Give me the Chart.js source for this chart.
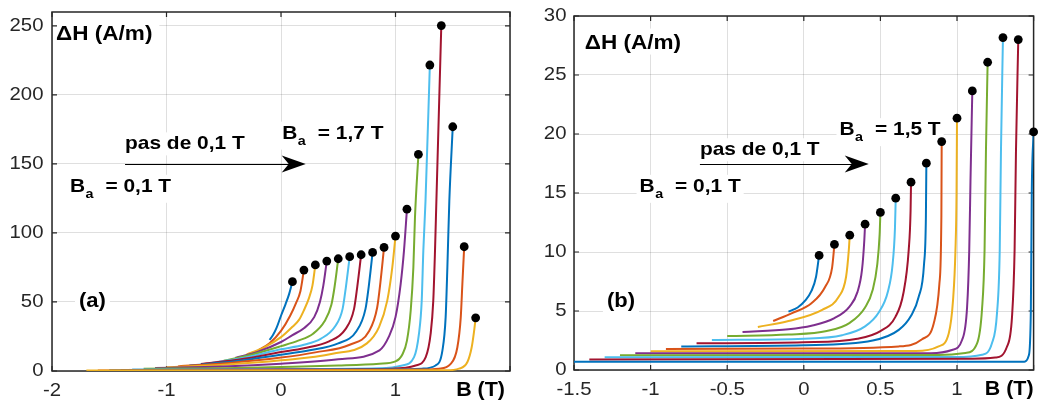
<!DOCTYPE html>
<html>
<head>
<meta charset="utf-8">
<script src="https://cdn.jsdelivr.net/npm/chart.js@4.4.1/dist/chart.umd.min.js"></script>
<style>
  body { margin: 0; background: #fff; }
  canvas { position: absolute; top: 0; }
  #chartA { left: 0; }
  #chartB { left: 520px; }
</style>
</head>
<body>
<canvas id="chartA" width="520" height="401"></canvas>
<canvas id="chartB" width="518" height="401"></canvas>
<script>
// ========================
// Données
// ========================
// (a) champ appliqué Ba (T) et ΔH au sommet (A/m)
const fieldA = [0.1, 0.2, 0.3, 0.4, 0.5, 0.6, 0.7, 0.8, 0.9, 1.0, 1.1, 1.2, 1.3, 1.4, 1.5, 1.6, 1.7];
const peakA = [64.7, 73.1, 76.8, 79.6, 81.3, 82.8, 84.2, 85.9, 89.5, 97.7, 117.2, 156.9, 221.6, 250.2, 176.9, 90.0, 38.5];
// (a) courbes [B, ΔH]
const curvesA = [
  [[-0.1, 22.5], [-0.07, 26], [-0.04, 31], [0, 40], [0.04, 48.5], [0.07, 55.5], [0.1, 64.7]],
  [[-0.2, 15], [-0.1, 20], [0, 29], [0.08, 40], [0.13, 49], [0.17, 58], [0.2, 73.1]],
  [[-0.3, 12], [-0.15, 17], [0, 24.5], [0.1, 32], [0.157, 37], [0.2, 44], [0.245, 53], [0.275, 62], [0.3, 76.8]],
  [[-0.4, 9.5], [-0.2, 14], [0, 21], [0.1, 26], [0.2, 31], [0.29, 39], [0.34, 50], [0.37, 62], [0.4, 79.6]],
  [[-0.5, 7.5], [-0.25, 12], [0, 18], [0.15, 22], [0.28, 27], [0.38, 36], [0.44, 48], [0.468, 61], [0.5, 81.3]],
  [[-0.6, 6], [-0.3, 10], [0, 15.7], [0.2, 19], [0.35, 23.5], [0.47, 32], [0.538, 45], [0.567, 61], [0.6, 82.8]],
  [[-0.7, 5], [-0.35, 8.5], [0, 13.7], [0.2, 16.5], [0.42, 21.5], [0.56, 30], [0.638, 45], [0.666, 61], [0.7, 84.2]],
  [[-0.8, 4], [-0.4, 7], [0, 11.8], [0.25, 15], [0.5, 20], [0.66, 29], [0.738, 45], [0.766, 61], [0.8, 85.9]],
  [[-0.9, 3.3], [-0.45, 5.8], [0, 9.7], [0.3, 13.5], [0.6, 19], [0.77, 29], [0.84, 46], [0.868, 64], [0.9, 89.5]],
  [[-1.0, 2.7], [-0.5, 4.5], [0, 7.7], [0.45, 12.5], [0.75, 20], [0.856, 31.8], [0.928, 51], [0.972, 75], [1.0, 97.7]],
  [[-1.1, 2.2], [-0.5, 3.3], [0, 5.3], [0.5, 8.5], [0.86, 15], [0.94, 24.5], [1.0, 39], [1.045, 63], [1.074, 87], [1.1, 117.2]],
  [[-1.2, 1.7], [-0.5, 2], [0, 2.9], [0.5, 4], [0.86, 5.3], [1.0, 7], [1.06, 12], [1.1, 22], [1.133, 44], [1.156, 75], [1.17, 111], [1.2, 156.9]],
  [[-1.3, 1.0], [0, 1.4], [0.86, 2], [1.06, 4], [1.162, 10], [1.205, 27], [1.229, 51], [1.243, 87], [1.262, 123], [1.3, 221.6]],
  [[-1.4, 0.8], [0, 1.0], [0.97, 1.7], [1.176, 4], [1.264, 10], [1.307, 27], [1.33, 51], [1.345, 87], [1.357, 123], [1.4, 250.2]],
  [[-1.5, 0.6], [0, 0.8], [1.0, 1.2], [1.23, 1.7], [1.35, 4], [1.41, 15], [1.438, 39], [1.453, 75], [1.47, 123], [1.5, 176.9]],
  [[-1.6, 0.4], [0, 0.5], [1.2, 1], [1.38, 1.7], [1.48, 5], [1.54, 17], [1.57, 39], [1.584, 63], [1.6, 90]],
  [[-1.7, 0.3], [0, 0.3], [1.44, 0.5], [1.555, 1.7], [1.628, 6.5], [1.665, 17], [1.685, 28], [1.7, 38.5]]
];
const xTicksA = [-2, -1, 0, 1, 2];
const yTicksA = [0, 50, 100, 150, 200, 250];

// (b)
const fieldB = [0.1, 0.2, 0.3, 0.4, 0.5, 0.6, 0.7, 0.8, 0.9, 1.0, 1.1, 1.2, 1.3, 1.4, 1.5];
const peakB = [9.71, 10.64, 11.43, 12.36, 13.35, 14.56, 15.92, 17.53, 19.36, 21.34, 23.65, 26.08, 28.17, 28.0, 20.18];
const curvesB = [
  [[-0.1, 4.95], [-0.04, 5.3], [0.01, 5.9], [0.05, 6.7], [0.08, 7.9], [0.1, 9.71]],
  [[-0.2, 4.15], [-0.08, 4.8], [0.05, 5.65], [0.14, 7.05], [0.185, 8.7], [0.2, 10.64]],
  [[-0.3, 3.65], [-0.1, 4.15], [0.12, 5.1], [0.228, 6.2], [0.276, 7.9], [0.294, 10.2], [0.3, 11.43]],
  [[-0.4, 3.22], [-0.1, 3.45], [0.05, 3.75], [0.2, 4.4], [0.3, 5.4], [0.35, 6.6], [0.38, 8.5], [0.395, 11], [0.4, 12.36]],
  [[-0.5, 2.88], [-0.1, 3.0], [0.15, 3.3], [0.3, 4.0], [0.4, 5.3], [0.45, 6.8], [0.48, 9], [0.495, 11.5], [0.5, 13.35]],
  [[-0.6, 2.54], [0, 2.65], [0.25, 2.95], [0.4, 3.7], [0.49, 4.9], [0.55, 6.7], [0.58, 9], [0.595, 12], [0.6, 14.56]],
  [[-0.7, 2.26], [0, 2.35], [0.35, 2.65], [0.5, 3.3], [0.598, 4.5], [0.65, 6.5], [0.685, 10.2], [0.697, 13.5], [0.7, 15.92]],
  [[-0.8, 2.0], [0, 2.1], [0.45, 2.5], [0.62, 3.4], [0.7, 4.6], [0.75, 6.2], [0.785, 9], [0.797, 13], [0.8, 17.53]],
  [[-0.9, 1.78], [0, 1.82], [0.62, 2.0], [0.772, 2.6], [0.848, 3.95], [0.885, 7.3], [0.898, 13], [0.9, 19.36]],
  [[-1.0, 1.58], [0.73, 1.6], [0.88, 2.0], [0.946, 3.1], [0.974, 5.9], [0.99, 10.2], [0.997, 15], [1.0, 21.34]],
  [[-1.1, 1.41], [0.83, 1.43], [0.967, 1.7], [1.033, 2.54], [1.066, 5.36], [1.08, 10.2], [1.088, 16], [1.1, 23.65]],
  [[-1.2, 1.25], [0.88, 1.27], [1.055, 1.45], [1.131, 2.26], [1.163, 5.1], [1.18, 10.2], [1.189, 18.6], [1.2, 26.08]],
  [[-1.3, 1.07], [0.99, 1.1], [1.163, 1.3], [1.228, 2.26], [1.261, 4.8], [1.279, 10.2], [1.287, 18.6], [1.3, 28.17]],
  [[-1.4, 0.9], [1.1, 0.95], [1.25, 1.05], [1.326, 1.97], [1.359, 4.5], [1.376, 10.2], [1.385, 18.6], [1.4, 28.0]],
  [[-1.5, 0.7], [1.44, 0.7], [1.468, 1.2], [1.482, 5], [1.488, 15], [1.5, 20.18]]
];
const xTicksB = [-1.5, -1, -0.5, 0, 0.5, 1, 1.5];
const yTicksB = [0, 5, 10, 15, 20, 25, 30];

// couleurs MATLAB par défaut
const palette = ["#0072BD", "#D95319", "#EDB120", "#7E2F8E", "#77AC30", "#4DBEEE", "#A2142F"];

// ========================
// Texte (police étirée comme sur la figure)
// ========================
const SX = 1.1;
const FONT = '"Liberation Sans", Arial, Helvetica, sans-serif';

function put(ctx, s, x, y, size, bold, align, base) {
  ctx.save();
  ctx.font = (bold ? "bold " : "") + size + "px " + FONT;
  ctx.textAlign = align || "left";
  ctx.textBaseline = base || "alphabetic";
  ctx.translate(x, y);
  ctx.scale(SX, 1);
  ctx.fillText(s, 0, 0);
  const w = ctx.measureText(s).width * SX;
  ctx.restore();
  return w;
}

function textWidth(ctx, s, size, bold) {
  ctx.save();
  ctx.font = (bold ? "bold " : "") + size + "px " + FONT;
  const w = ctx.measureText(s).width * SX;
  ctx.restore();
  return w;
}

function drawArrow(ctx, x0, x1, y) {
  ctx.strokeStyle = "#000";
  ctx.lineWidth = 1;
  ctx.beginPath();
  ctx.moveTo(x0, y + 0.5);
  ctx.lineTo(x1 - 16, y + 0.5);
  ctx.stroke();
  ctx.fillStyle = "#000";
  ctx.beginPath();
  ctx.moveTo(x1, y);
  ctx.lineTo(x1 - 24, y - 8.5);
  ctx.lineTo(x1 - 17, y);
  ctx.lineTo(x1 - 24, y + 8.5);
  ctx.closePath();
  ctx.fill();
}

// ========================
// Cadre, graduations et annotations façon MATLAB
// ========================
const matlabAxes = {
  id: "matlabAxes",
  beforeDatasetsDraw(chart, args, o) {
    const ctx = chart.ctx, a = chart.chartArea;
    const xs = chart.scales.x, ys = chart.scales.y;
    const X = v => xs.getPixelForValue(v), Y = v => ys.getPixelForValue(v);
    ctx.save();

    // fonds blancs des textes
    ctx.fillStyle = "#fff";
    const hx = X(o.yLabel[0]), hy = Y(o.yLabel[1]);
    const hw = textWidth(ctx, "ΔH (A/m)", 20.5, true);
    ctx.fillRect(Math.max(a.left + 1, hx - 5), Math.max(a.top + 1, hy - 20), hw + 10, 26);
    const tx = X(o.tag[0]), ty = Y(o.tag[1]);
    ctx.fillRect(tx - 4, ty - 19, textWidth(ctx, o.tagText, 20, true) + 8, 25);
    o.ba.forEach(b => {
      const bx = X(b[0]), by = Y(b[1]);
      ctx.fillRect(bx - 3, by - 17, 35.5 + textWidth(ctx, b[2], 19, true) + 6, 28);
    });
    const px = X(o.pas[0]), py = Y(o.pas[1]);
    ctx.fillRect(px - 3, py - 17, textWidth(ctx, "pas de 0,1 T", 19, true) + 6, 23);

    // cadre
    ctx.strokeStyle = "#262626";
    ctx.lineWidth = 1.5;
    ctx.strokeRect(a.left, a.top, a.right - a.left, a.bottom - a.top);
    ctx.lineWidth = 1.2;
    ctx.beginPath();
    xs.ticks.forEach(t => {
      const p = X(t.value);
      ctx.moveTo(p, a.bottom); ctx.lineTo(p, a.bottom - 5);
      ctx.moveTo(p, a.top); ctx.lineTo(p, a.top + 5);
    });
    ys.ticks.forEach(t => {
      const p = Y(t.value);
      ctx.moveTo(a.left, p); ctx.lineTo(a.left + 5, p);
      ctx.moveTo(a.right, p); ctx.lineTo(a.right - 5, p);
    });
    ctx.stroke();

    // étiquettes des graduations
    ctx.fillStyle = "#262626";
    xs.ticks.forEach((t, i) => {
      if (i === xs.ticks.length - 1) return;
      put(ctx, String(t.value), X(t.value), a.bottom + 19.5, 18.5, false, "center", "middle");
    });
    ys.ticks.forEach(t => {
      put(ctx, String(t.value), a.left - o.yGap, Y(t.value), 18.5, false, "right", "middle");
    });

    // titres des axes et annotations
    ctx.fillStyle = "#000";
    put(ctx, "B (T)", a.right - o.bRight, a.bottom + 19.5, 19.5, true, "right", "middle");
    put(ctx, "ΔH (A/m)", hx, hy, 20.5, true);
    put(ctx, o.tagText, tx, ty, 20, true);
    put(ctx, "pas de 0,1 T", px, py, 19, true);
    o.ba.forEach(b => {
      const bx = X(b[0]), by = Y(b[1]);
      const wB = put(ctx, "B", bx, by, 19, true);
      put(ctx, "a", bx + wB + 0.5, by + 6, 13, true);
      put(ctx, b[2], bx + 35.5, by, 19, true);
    });
    drawArrow(ctx, X(o.arrow[0]), X(o.arrow[1]), Math.round(Y(o.arrow[2])));

    ctx.restore();
  }
};

// ========================
// Construction des graphiques
// ========================
function buildDatasets(curves, fields, peaks) {
  const ds = curves.map((pts, i) => ({
    data: pts.map(p => ({ x: p[0], y: p[1] })),
    borderColor: palette[i % palette.length],
    borderWidth: 2,
    pointRadius: 0,
    cubicInterpolationMode: "monotone",
    fill: false,
    order: -i
  }));
  ds.push({
    data: fields.map((b, i) => ({ x: b, y: peaks[i] })),
    showLine: false,
    pointRadius: 4.4,
    pointBackgroundColor: "#000",
    pointBorderWidth: 0,
    clip: 8,
    order: -100
  });
  return ds;
}

function makeChart(id, curves, fields, peaks, xTicks, yTicks, xMin, xMax, yMax, yWidth, xHeight, padding, notes) {
  const gridColor = "rgba(38, 38, 38, 0.15)";
  return new Chart(document.getElementById(id).getContext("2d"), {
    type: "line",
    data: { datasets: buildDatasets(curves, fields, peaks) },
    options: {
      responsive: false,
      devicePixelRatio: 1,
      animation: false,
      events: [],
      layout: { padding },
      plugins: { legend: { display: false }, tooltip: { enabled: false }, matlabAxes: notes },
      scales: {
        x: {
          type: "linear", min: xMin, max: xMax,
          ticks: { display: false },
          afterBuildTicks: s => { s.ticks = xTicks.map(v => ({ value: v })); },
          afterFit: s => { s.height = xHeight; },
          grid: { color: gridColor, lineWidth: 1, drawTicks: false },
          border: { display: false }
        },
        y: {
          type: "linear", min: 0, max: yMax,
          ticks: { display: false },
          afterBuildTicks: s => { s.ticks = yTicks.map(v => ({ value: v })); },
          afterFit: s => { s.width = yWidth; },
          grid: { color: gridColor, lineWidth: 1, drawTicks: false },
          border: { display: false }
        }
      }
    },
    plugins: [matlabAxes]
  });
}

makeChart("chartA", curvesA, fieldA, peakA, xTicksA, yTicksA, -2, 2, 260, 52, 30,
  { left: 0, right: 10, top: 12, bottom: 0 },
  {
    yGap: 8.5, bRight: 5,
    yLabel: [-1.965, 239.5], tag: [-1.764, 46], tagText: "(a)",
    pas: [-1.362, 160.5], arrow: [-1.362, 0.216, 150],
    ba: [[-1.843, 129.8, "= 0,1 T"], [0.011, 168.3, "= 1,7 T"]]
  });

makeChart("chartB", curvesB, fieldB, peakB, xTicksB, yTicksB, -1.5, 1.5, 30, 54, 31,
  { left: 0, right: 3, top: 16, bottom: 0 },
  {
    yGap: 7.5, bRight: 0,
    yLabel: [-1.43, 27.24], tag: [-1.285, 5.3], tagText: "(b)",
    pas: [-0.678, 18.2], arrow: [-0.678, 0.424, 17.5],
    ba: [[-1.072, 15.1, "= 0,1 T"], [0.233, 19.9, "= 1,5 T"]]
  });
</script>
</body>
</html>
